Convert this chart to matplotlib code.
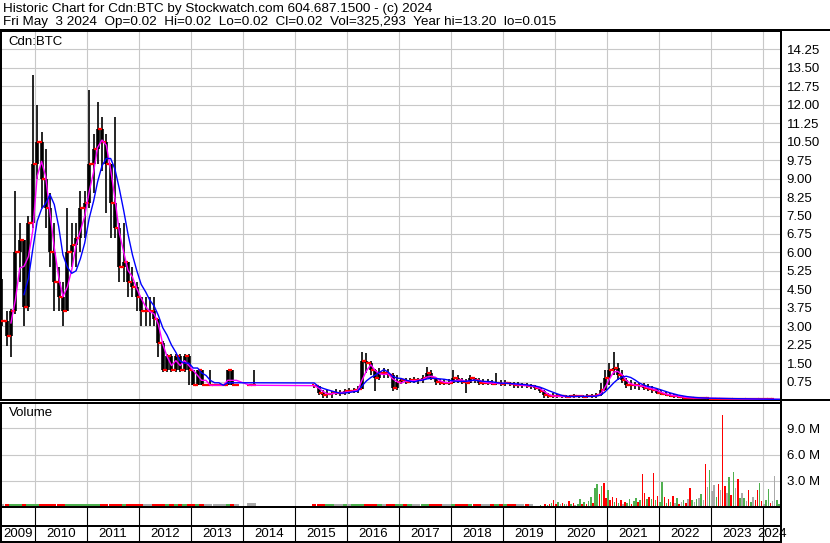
# Historic Chart Cdn:BTC - Stockwatch-Stil nachgebaut
import numpy as np
import pandas as pd
import matplotlib
matplotlib.use('Agg')
import matplotlib.pyplot as plt
from matplotlib.lines import Line2D

plt.rcParams['font.family'] = ['Liberation Sans', 'DejaVu Sans']

W, H = 830, 543
FS = 9.5

# Monatsdaten Mai 2009 - Mai 2024 (None = kein Handel)
months = pd.date_range('2009-05-01', '2024-05-01', freq='MS')
nan = None
price_hi = [4.9, 3.6, 3.7, 8.5, 7.2, 6.5, 7.5, 13.2, 12.0, 10.9, 10.2, 8.4,
            7.2, 5.4, 4.8, 7.8, 7.2, 7.2, 8.5, 8.5, 12.6, 10.8, 12.1, 11.5,
            10.8, 9.6, 11.5, 7.2, 7.2, 5.4, 5.4, 4.8, 4.2, 4.2, 4.2, 4.2,
            3.3, 2.4, 1.85, 1.85, 1.85, 1.85, 1.85, 1.85, 1.2, 1.2, 1.2, 0.6,
            1.2, 0.6, 0.6, 0.6, 1.2, 0.6, 0.6, nan, nan, 0.6, 1.2, nan,
            nan, nan, nan, nan, nan, nan, nan, nan, nan, nan, nan, nan,
            0.6, 0.5, 0.4, 0.4, 0.35, 0.45, 0.4, 0.45, 0.5, 0.5, 0.55, 1.95,
            1.9, 1.6, 1.25, 1.3, 1.3, 1.25, 1.1, 1.0, 0.9, 0.9, 0.9, 0.95,
            0.9, 1.0, 1.35, 1.2, 0.9, 0.85, 0.85, 0.85, 1.2, 1.0, 0.9, 0.85,
            1.0, 0.9, 0.9, 0.85, 0.85, 0.8, 1.1, 0.8, 0.8, 0.75, 0.75, 0.75,
            0.7, 0.7, 0.65, 0.6, 0.5, 0.4, 0.3, 0.3, 0.25, 0.22, 0.2, 0.22,
            0.25, 0.22, 0.22, 0.25, 0.25, 0.3, 0.7, 1.2, 1.5, 1.95, 1.5, 1.2,
            0.9, 0.8, 0.75, 0.7, 0.7, 0.65, 0.55, 0.45, 0.4, 0.35, 0.3, 0.25,
            0.18, 0.15, 0.12, 0.12, 0.12, 0.11, 0.11, 0.1, 0.1, 0.09, 0.1, 0.09,
            0.08, 0.08, 0.08, 0.07, 0.07, 0.07, 0.06, 0.06, 0.06, 0.05, 0.05, 0.04,
            0.02]
price_lo = [3.0, 2.2, 1.75, 3.5, 4.8, 3.0, 3.6, 7.0, 9.0, 7.8, 7.0, 5.4,
            3.6, 3.6, 3.0, 3.6, 5.4, 5.4, 6.0, 6.6, 7.8, 8.4, 9.6, 9.3,
            7.6, 6.6, 6.6, 4.8, 4.8, 4.2, 4.2, 3.6, 3.0, 3.0, 3.0, 3.0,
            1.75, 1.15, 1.15, 1.15, 1.15, 1.15, 1.15, 0.6, 0.6, 0.6, 0.6, 0.6,
            0.6, 0.6, 0.6, 0.6, 0.6, 0.6, 0.6, nan, nan, 0.6, 0.6, nan,
            nan, nan, nan, nan, nan, nan, nan, nan, nan, nan, nan, nan,
            0.5, 0.2, 0.1, 0.1, 0.1, 0.2, 0.15, 0.2, 0.25, 0.3, 0.3, 0.45,
            1.1, 1.0, 0.35, 0.8, 0.9, 0.9, 0.35, 0.4, 0.65, 0.65, 0.7, 0.7,
            0.65, 0.7, 0.9, 0.8, 0.6, 0.6, 0.6, 0.6, 0.7, 0.7, 0.65, 0.3,
            0.8, 0.7, 0.6, 0.6, 0.6, 0.6, 0.6, 0.55, 0.55, 0.55, 0.5, 0.5,
            0.5, 0.5, 0.45, 0.4, 0.3, 0.1, 0.08, 0.08, 0.1, 0.1, 0.08, 0.1,
            0.1, 0.1, 0.1, 0.1, 0.1, 0.1, 0.15, 0.4, 0.6, 1.0, 0.8, 0.7,
            0.5, 0.4, 0.45, 0.4, 0.4, 0.35, 0.3, 0.25, 0.2, 0.15, 0.12, 0.1,
            0.08, 0.06, 0.05, 0.05, 0.05, 0.05, 0.05, 0.04, 0.04, 0.04, 0.04, 0.03,
            0.03, 0.03, 0.03, 0.03, 0.02, 0.02, 0.02, 0.02, 0.02, 0.015, 0.015, 0.015,
            0.02]
price_cl = [3.2, 2.6, 3.6, 6.0, 6.5, 3.8, 7.2, 9.6, 10.5, 9.0, 7.8, 6.0,
            4.8, 4.2, 3.6, 6.0, 6.3, 6.6, 7.8, 8.0, 9.6, 10.2, 11.0, 10.5,
            9.6, 8.0, 7.0, 5.4, 5.6, 4.8, 4.6, 4.2, 3.6, 3.6, 3.6, 3.3,
            2.3, 1.2, 1.8, 1.2, 1.8, 1.2, 1.8, 1.2, 0.6, 1.2, 0.6, 0.6,
            0.6, 0.6, 0.6, 0.6, 1.2, 0.6, 0.6, nan, nan, 0.6, 0.6, nan,
            nan, nan, nan, nan, nan, nan, nan, nan, nan, nan, nan, nan,
            0.55, 0.3, 0.2, 0.25, 0.3, 0.3, 0.3, 0.35, 0.35, 0.4, 0.45, 1.6,
            1.5, 1.2, 0.9, 1.1, 1.1, 1.0, 0.5, 0.75, 0.8, 0.75, 0.8, 0.8,
            0.8, 0.9, 1.1, 0.9, 0.75, 0.7, 0.7, 0.7, 0.9, 0.8, 0.75, 0.7,
            0.9, 0.8, 0.7, 0.7, 0.7, 0.65, 0.7, 0.65, 0.7, 0.65, 0.6, 0.6,
            0.6, 0.55, 0.55, 0.5, 0.35, 0.2, 0.15, 0.15, 0.15, 0.15, 0.12, 0.15,
            0.15, 0.15, 0.14, 0.15, 0.15, 0.2, 0.4, 0.9, 1.2, 1.3, 1.0, 0.8,
            0.6, 0.6, 0.6, 0.55, 0.5, 0.45, 0.4, 0.3, 0.25, 0.2, 0.18, 0.15,
            0.12, 0.1, 0.08, 0.08, 0.08, 0.07, 0.07, 0.06, 0.06, 0.06, 0.05, 0.05,
            0.05, 0.04, 0.04, 0.04, 0.04, 0.03, 0.03, 0.03, 0.03, 0.03, 0.02, 0.02,
            0.02]

# Volumen in Mio., monatlich Mai 2009 - Jul 2019
vol_early = [0.33, 0.29, 0.38, 0.33, 0.29, 0.36, 0.33, 0.38, 0.33, 0.29, 0.33, 0.29,
             0.29, 0.33, 0.29, 0.33, 0.29, 0.29, 0.33, 0.29, 0.36, 0.33, 0.29, 0.33,
             0.29, 0.33, 0.29, 0.33, 0.29, 0.29, 0.33, 0.29, 0.29, 0.33, 0.29, 0.29,
             0.33, 0.29, 0.29, 0.33, 0.29, 0.29, 0.33, 0.29, 0.29, 0.33, 0.29, 0.29,
             0.33, 0.29, 0.29, 0.33, 0.29, 0.29, 0.33, 0, 0, 0.45, 0.45,
             0, 0, 0, 0, 0, 0, 0, 0, 0, 0, 0, 0, 0,
             0.29, 0.33, 0.29, 0.29, 0.33, 0.29, 0.29, 0.33, 0.29, 0.29, 0.33, 0.4,
             0.38, 0.33, 0.29, 0.33, 0.29, 0.29, 0.33, 0.29, 0.29, 0.33, 0.29, 0.29,
             0.33, 0.29, 0.38, 0.29, 0.29, 0.33, 0.29, 0.29, 0.33, 0.29, 0.29, 0.33,
             0.29, 0.29, 0.33, 0.29, 0.29, 0.33, 0.29, 0.29, 0.33, 0.29, 0.29,
             0.33, 0.38, 0.33, 0.38]

# Volumen in Mio., halbmonatlich ab Aug 2019 (g = hoeher, r = tiefer, n = unveraendert)
half_months = pd.date_range('2019-08-01', periods=114, freq='SMS')
vol_recent = [0.1, 0.15, 0.1, 0.2, 0.15, 0.3, 0.2, 0.4, 0.5, 0.8,
              0.4, 0.6, 0.3, 0.5, 0.3, 0.4, 0.7, 0.3, 0.5, 0.2,
              0.4, 0.9, 0.3, 0.6, 0.3, 0.7, 1.2, 0.5, 2.2, 2.6,
              1.5, 2.4, 2.8, 1.0, 2.0, 0.8, 1.2, 0.6, 1.0, 0.5,
              0.8, 0.4, 0.6, 0.5, 0.9, 0.4, 0.7, 1.0, 0.6, 0.8,
              3.8, 1.6, 0.9, 1.2, 0.9, 3.9, 0.8, 1.3, 0.6, 2.9,
              1.2, 0.5, 0.9, 0.6, 1.3, 0.5, 1.0, 0.4, 0.6, 0.8,
              0.5, 0.9, 2.2, 0.8, 0.6, 0.9, 1.0, 1.5, 0.8, 4.9,
              2.3, 4.2, 1.8, 2.5, 1.2, 2.6, 2.0, 10.5, 2.4, 1.6,
              3.4, 1.4, 4.0, 2.2, 3.2, 1.0, 1.6, 1.0, 0.7, 2.0,
              0.6, 1.2, 0.8, 2.0, 2.8, 0.7, 0.4, 0.8, 2.1, 0.5,
              0.7, 3.5, 0.8, 0.4]
vol_recent_dir = ('grngrrgrgr' 'rgnrgnrgrn' 'ggrgrggrgg' 'rgrrgrrgrg'
                  'rnrggrggrg' 'rrgrgrgrgg' 'rgrgrngrng' 'rnrgngngnr'
                  'ngnngrnrrn' 'grgnrgngnr' 'gnrrgrnggr' 'nngg')

price_ticks = np.arange(0.75, 14.26, 0.75)
vol_ticks = [3, 6, 9]
years = list(range(2009, 2025))

header1 = 'Historic Chart for Cdn:BTC by Stockwatch.com 604.687.1500 - (c) 2024'
header2 = ('Fri May  3 2024  Op=0.02  Hi=0.02  Lo=0.02  Cl=0.02  '
           'Vol=325,293  Year hi=13.20  lo=0.015')

# Hilfsfunktionen
def dec_year(d):
    return d.year + (d.dayofyear - 1) / 365.25

t_month = dec_year(months) + 1 / 24
t_half = dec_year(half_months) + 1 / 48
xlim = (2009.346, 2024.346)

def px_axes(x0, y0, x1, y1):
    return fig.add_axes([x0 / W, 1 - y1 / H, (x1 - x0) / W, (y1 - y0) / H])

LW = 1.44  # 2 px
GRID = '#c8c8c8'
GREEN, RED, GREY = '#4fb04f', '#ff0000', '#aaaaaa'

fig = plt.figure(figsize=(W / 100, H / 100), dpi=100)

# --- Kurs ---
ax = px_axes(1, 31, 781, 400)
s = pd.DataFrame({'hi': price_hi, 'lo': price_lo, 'cl': price_cl},
                 index=t_month, dtype=float).dropna()
s['op'] = s['cl'].shift(1).fillna(s['cl'])
d = 0.55 / 12
ax.vlines(s.index, s['lo'], s['hi'], color='black', lw=1.2, zorder=2)
ax.vlines(s.index, s[['op', 'cl']].min(axis=1), s[['op', 'cl']].max(axis=1),
          color='black', lw=2.6, zorder=2)
ax.hlines(s['op'], s.index - d, s.index, color=RED, lw=1.6, zorder=3)
ax.hlines(s['cl'], s.index, s.index + d, color=RED, lw=1.6, zorder=3)
pink = s['cl'].rolling(3).mean()
blue = s['cl'].rolling(6).mean()
ax.plot(pink.index, pink.values, color='#ff00ff', lw=1.0, zorder=4)
ax.plot(blue.index, blue.values, color='#0000ff', lw=1.0, zorder=4)

ax.set_xlim(xlim)
ax.set_ylim(0, 15)
ax.set_yticks(price_ticks)
ax.set_yticklabels(['%.2f' % v for v in price_ticks])
ax.set_xticks(years[1:])
ax.yaxis.tick_right()
ax.tick_params(axis='y', length=0, pad=4, labelsize=FS)
ax.tick_params(axis='x', length=0, labelbottom=False)
ax.grid(True, color=GRID, lw=0.8)
ax.set_axisbelow(True)
for sp in ax.spines.values():
    sp.set_linewidth(LW)

# --- Volumen ---
axv = px_axes(1, 403, 781, 507)
early = pd.Series(price_cl[:len(vol_early)], dtype=float)
chg = early.ffill().diff().fillna(0)
early_col = [GREEN if c > 0 else RED if c < 0 else GREY for c in chg]
axv.bar(t_month[:len(vol_early)], vol_early, width=1.0 / 12,
        color=early_col, zorder=2)
col_map = {'g': GREEN, 'r': RED, 'n': GREY}
axv.bar(t_half, vol_recent, width=0.75 / 24,
        color=[col_map[c] for c in vol_recent_dir], zorder=2)

axv.set_xlim(xlim)
axv.set_ylim(0, 11.9)
axv.set_yticks(vol_ticks)
axv.set_yticklabels(['%.1f M' % v for v in vol_ticks])
axv.set_xticks(years[1:])
axv.yaxis.tick_right()
axv.tick_params(axis='y', length=0, pad=4, labelsize=FS)
axv.tick_params(axis='x', length=0, labelbottom=False)
axv.grid(True, color=GRID, lw=0.8)
axv.set_axisbelow(True)
for sp in axv.spines.values():
    sp.set_linewidth(LW)

# --- Jahresleiste ---
axx = px_axes(1, 507, 781, 542)
axx.set_xlim(xlim)
axx.set_ylim(0, 1)
axx.set_xticks([])
axx.set_yticks([])
for sp in axx.spines.values():
    sp.set_linewidth(LW)
axx.axhline((542 - 526) / 35, color='black', lw=LW)
axx.vlines(years[1:], 0, 1, color='black', lw=0.8)
for y in years:
    a, b = max(y, xlim[0]), min(y + 1, xlim[1])
    axx.text((a + b) / 2, 0.23, str(y), ha='center', va='center',
             fontsize=FS, clip_on=False)

# --- Rahmen und Texte ---
fig.add_artist(Line2D([0, 1], [1 - 30 / H] * 2, color='black', lw=LW,
                      transform=fig.transFigure))
fig.add_artist(Line2D([781 / W, 1], [1 - 400 / H] * 2, color='black', lw=LW,
                      transform=fig.transFigure))
fig.add_artist(Line2D([781 / W] * 2, [1 - 30 / H, 0], color='black', lw=LW,
                      transform=fig.transFigure))
fig.text(3 / W, 1 - 9 / H, header1, fontsize=9.7, va='center', ha='left')
fig.text(3 / W, 1 - 22.5 / H, header2, fontsize=9.7, va='center', ha='left')
fig.text(8 / W, 1 - 42 / H, 'Cdn:BTC', fontsize=FS, va='center', ha='left')
fig.text(9 / W, 1 - 413 / H, 'Volume', fontsize=FS, va='center', ha='left')

fig.savefig('out.png', dpi=100)
